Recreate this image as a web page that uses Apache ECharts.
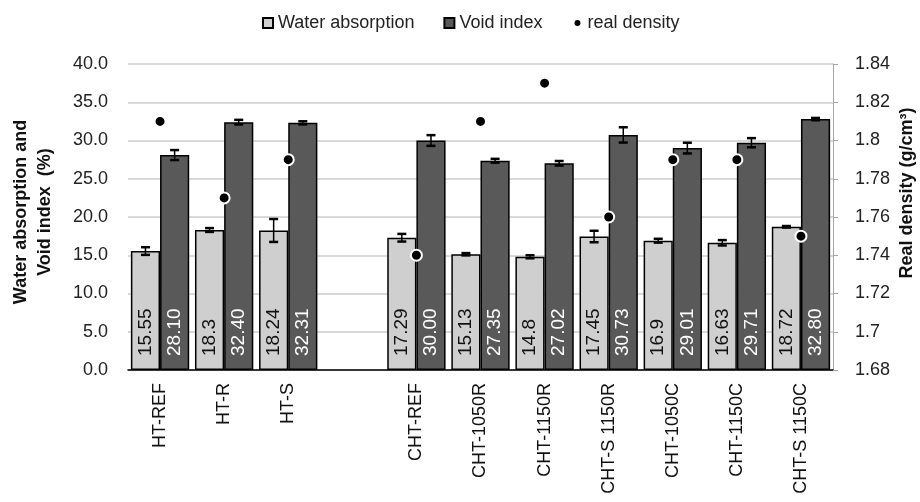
<!DOCTYPE html>
<html>
<head>
<meta charset="utf-8">
<script src="https://cdn.jsdelivr.net/npm/echarts@6/dist/echarts.min.js"></script>
<style>
  html, body { margin: 0; padding: 0; background: #fff; }
  #chart { width: 920px; height: 502px; }
</style>
</head>
<body>
<div id="chart"></div>
<script>
// Mixes (empty entry leaves a gap between the HT and CHT groups)
const categories = ['HT-REF', 'HT-R', 'HT-S', '', 'CHT-REF', 'CHT-1050R', 'CHT-1150R',
  'CHT-S 1150R', 'CHT-1050C', 'CHT-1150C', 'CHT-S 1150C'];

// Water absorption (%) and its standard deviation
const waterAbsorption = [15.55, 18.3, 18.24, null, 17.29, 15.13, 14.8, 17.45, 16.9, 16.63, 18.72];
const waterAbsorptionSd = [0.5, 0.25, 1.5, null, 0.5, 0.15, 0.2, 0.75, 0.25, 0.35, 0.1];

// Void index (%) and its standard deviation
const voidIndex = [28.10, 32.40, 32.31, null, 30.00, 27.35, 27.02, 30.73, 29.01, 29.71, 32.80];
const voidIndexSd = [0.65, 0.3, 0.2, null, 0.7, 0.25, 0.3, 1.0, 0.7, 0.6, 0.15];

// Real density (g/cm3)
const realDensity = [1.81, 1.77, 1.79, null, 1.74, 1.81, 1.83, 1.76, 1.79, 1.79, 1.75];

const FONT = "'Liberation Sans', Arial, sans-serif";
const CAT_GAP = 0.09;

const chart = echarts.init(document.getElementById('chart'), null, { renderer: 'canvas' });

function toBarData(values) {
  return values.map(v => (v == null ? '-' : v));
}
function toErrData(values, sds) {
  const out = [];
  values.forEach((v, i) => { if (v != null) out.push([i, v, sds[i]]); });
  return out;
}
function toDotData(values) {
  const out = [];
  values.forEach((v, i) => { if (v != null) out.push([i, v]); });
  return out;
}

// Error bars centred on the left (side = -1) or right (side = +1) bar of each pair
function errorBar(side) {
  return function (params, api) {
    const i = api.value(0), v = api.value(1), e = api.value(2);
    const w = api.size([1, 0])[0];
    const x = api.coord([i, v])[0] + side * w * (1 - CAT_GAP) / 4;
    const yTop = api.coord([i, v + e])[1];
    const yBot = api.coord([i, v - e])[1];
    const cap = 4.5;
    const stroke = { stroke: '#000', lineWidth: 1.5 };
    const capStroke = { stroke: '#000', lineWidth: 2.5 };
    return {
      type: 'group',
      children: [
        { type: 'line', shape: { x1: x, y1: yTop, x2: x, y2: yBot }, style: stroke },
        { type: 'line', shape: { x1: x - cap, y1: yTop, x2: x + cap, y2: yTop }, style: capStroke },
        { type: 'line', shape: { x1: x - cap, y1: yBot, x2: x + cap, y2: yBot }, style: capStroke }
      ]
    };
  };
}

// small dot inside a 10x10 box for the density legend key
const SMALL_DOT = 'path://M0,0M10,10M1,5A4,4,0,1,1,9,5A4,4,0,1,1,1,5Z';

const option = {
  backgroundColor: '#fff',
  animation: false,
  textStyle: { fontFamily: FONT },
  legend: {
    top: 9,
    left: 257,
    itemWidth: 10,
    itemHeight: 10,
    itemGap: 29,
    textStyle: { fontFamily: FONT, fontSize: 18, color: '#222' },
    data: [
      { name: 'Water absorption', icon: 'rect' },
      { name: 'Void index', icon: 'rect' },
      { name: 'real density', icon: SMALL_DOT }
    ]
  },
  grid: { left: 128, right: 87, top: 64, bottom: 132 },
  xAxis: {
    type: 'category',
    data: categories,
    axisLine: { show: true, lineStyle: { color: '#000', width: 1.5 } },
    axisTick: { show: false },
    axisLabel: {
      rotate: 90, interval: 0, margin: 13,
      fontFamily: FONT, fontSize: 18, color: '#111'
    }
  },
  yAxis: [
    {
      type: 'value', min: 0, max: 40, interval: 5,
      axisLine: { show: false },
      axisTick: { show: false },
      axisLabel: {
        margin: 20, fontFamily: FONT, fontSize: 18, color: '#222',
        formatter: v => v.toFixed(1)
      },
      splitLine: { lineStyle: { color: '#d9d9d9', width: 2 } }
    },
    {
      type: 'value', min: 1.68, max: 1.84, interval: 0.02,
      position: 'right',
      axisLine: { show: true, lineStyle: { color: '#a6a6a6', width: 1 } },
      axisTick: { show: true, inside: false, length: 5, lineStyle: { color: '#a6a6a6' } },
      axisLabel: {
        margin: 22, fontFamily: FONT, fontSize: 18, color: '#222',
        formatter: v => String(parseFloat(v.toFixed(2)))
      },
      splitLine: { show: false }
    }
  ],
  graphic: [
    {
      type: 'text',
      x: 33, y: 212,
      rotation: Math.PI / 2,
      style: {
        text: 'Water absorption and\nVoid index  (%)',
        font: 'bold 18px ' + FONT,
        fill: '#111',
        align: 'center', verticalAlign: 'middle',
        lineHeight: 24
      }
    },
    {
      type: 'text',
      x: 907, y: 193,
      rotation: Math.PI / 2,
      style: {
        text: 'Real density (g/cm³)',
        font: 'bold 18px ' + FONT,
        fill: '#111',
        align: 'center', verticalAlign: 'middle'
      }
    }
  ],
  series: [
    {
      name: 'Water absorption',
      type: 'bar',
      yAxisIndex: 0,
      data: toBarData(waterAbsorption),
      barGap: '0%',
      barCategoryGap: (CAT_GAP * 100) + '%',
      itemStyle: { color: '#d0cfcf', borderColor: '#000', borderWidth: 1.5 },
      label: {
        show: true, position: 'insideBottom', rotate: 90, distance: 14,
        align: 'left', verticalAlign: 'middle',
        fontFamily: FONT, fontSize: 19, color: '#111',
        formatter: p => String(p.value)
      },
      z: 2
    },
    {
      name: 'Void index',
      type: 'bar',
      yAxisIndex: 0,
      data: toBarData(voidIndex),
      barGap: '0%',
      barCategoryGap: (CAT_GAP * 100) + '%',
      itemStyle: { color: '#595959', borderColor: '#000', borderWidth: 1.5 },
      label: {
        show: true, position: 'insideBottom', rotate: 90, distance: 14,
        align: 'left', verticalAlign: 'middle',
        fontFamily: FONT, fontSize: 19, color: '#fff',
        formatter: p => Number(p.value).toFixed(2)
      },
      z: 2
    },
    {
      name: 'wa-sd',
      type: 'custom',
      yAxisIndex: 0,
      renderItem: errorBar(-1),
      data: toErrData(waterAbsorption, waterAbsorptionSd),
      encode: { x: 0, y: 1 },
      silent: true,
      z: 5
    },
    {
      name: 'vi-sd',
      type: 'custom',
      yAxisIndex: 0,
      renderItem: errorBar(1),
      data: toErrData(voidIndex, voidIndexSd),
      encode: { x: 0, y: 1 },
      silent: true,
      z: 5
    },
    {
      name: 'real density',
      type: 'scatter',
      yAxisIndex: 1,
      data: toDotData(realDensity),
      symbol: 'circle',
      symbolSize: 11,
      itemStyle: { color: '#000', borderColor: '#fff', borderWidth: 2, opacity: 1 },
      z: 10
    }
  ]
};

chart.setOption(option);
</script>
</body>
</html>
